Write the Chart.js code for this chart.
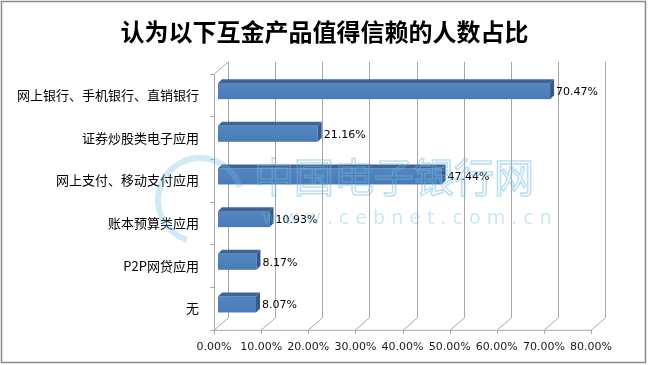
<!DOCTYPE html>
<html>
<head>
<meta charset="utf-8">
<script src="https://cdn.jsdelivr.net/npm/chart.js@4"></script>
<style>
    html, body { margin: 0; padding: 0; background: #fff; }
    #wrap { width: 649px; height: 365px; }
</style>
</head>
<body>
<div id="wrap"><canvas id="trustChart" width="649" height="365"></canvas></div>
<script>
const chartTitle = "认为以下互金产品值得信赖的人数占比";
const categories = [
    "网上银行、手机银行、直销银行",
    "证券炒股类电子应用",
    "网上支付、移动支付应用",
    "账本预算类应用",
    "P2P网贷应用",
    "无",
];
const shares = [70.47, 21.16, 47.44, 10.93, 8.17, 8.07];
const axisMax = 80;
const axisStep = 10;

const depth = 14; // back wall offset
const barDepth = 4;
const latinFont = "'DejaVu Sans', Verdana, sans-serif";
const cjkFont = "'Noto Sans CJK SC', 'DejaVu Sans', sans-serif";

function pct(v) {
    return v.toFixed(2) + "%";
}

const frame3d = {
    id: "frame3d",
    beforeDatasetsDraw(chart) {
        const { ctx, chartArea: a, scales } = chart;
        const xs = scales.x;
        ctx.save();
        ctx.strokeStyle = "#a6a6a6";
        ctx.lineWidth = 1;
        ctx.beginPath();
        for (let v = 0; v <= axisMax; v += axisStep) {
            const px = Math.round(xs.getPixelForValue(v)) + 0.5;
            ctx.moveTo(px + depth, a.top - 12);
            ctx.lineTo(px + depth, a.bottom - 12);
            ctx.moveTo(px, a.bottom);
            ctx.lineTo(px + depth, a.bottom - 12);
            ctx.moveTo(px, a.bottom);
            ctx.lineTo(px, a.bottom + 4);
        }
        const left = Math.round(a.left) + 0.5;
        ctx.moveTo(left, a.top);
        ctx.lineTo(left, a.bottom);
        ctx.moveTo(left, a.top);
        ctx.lineTo(left + depth, a.top - 12);
        ctx.moveTo(left, a.bottom + 0.5);
        ctx.lineTo(xs.getPixelForValue(axisMax) + 0.5, a.bottom + 0.5);
        const step = (a.bottom - a.top) / categories.length;
        for (let i = 0; i <= categories.length; i += 1) {
            const py = Math.round(a.top + i * step) + 0.5;
            ctx.moveTo(left - 4, py);
            ctx.lineTo(left, py);
        }
        ctx.stroke();
        ctx.restore();
    },
    afterDatasetsDraw(chart) {
        const { ctx } = chart;
        const meta = chart.getDatasetMeta(0);
        ctx.save();
        meta.data.forEach((bar, i) => {
            const h = bar.height;
            const x0 = bar.base + 4;
            const x1 = bar.x + 4;
            const yT = bar.y - h / 2 - 4;
            const yB = yT + h;
            const d = barDepth;
            const g = ctx.createLinearGradient(0, yT, 0, yB);
            g.addColorStop(0, "#5385c1");
            g.addColorStop(0.5, "#4f81bd");
            g.addColorStop(1, "#4a7ab5");
            ctx.fillStyle = g;
            ctx.fillRect(x0, yT, x1 - x0, h);
            ctx.fillStyle = "#3d6597";
            ctx.beginPath();
            ctx.moveTo(x0, yT);
            ctx.lineTo(x0 + d, yT - d);
            ctx.lineTo(x1 + d, yT - d);
            ctx.lineTo(x1, yT);
            ctx.closePath();
            ctx.fill();
            ctx.fillStyle = "#35598a";
            ctx.beginPath();
            ctx.moveTo(x1, yT);
            ctx.lineTo(x1 + d, yT - d);
            ctx.lineTo(x1 + d, yB - d);
            ctx.lineTo(x1, yB);
            ctx.closePath();
            ctx.fill();

            ctx.fillStyle = "#000";
            ctx.font = "11px " + latinFont;
            ctx.textAlign = "left";
            ctx.textBaseline = "middle";
            ctx.fillText(pct(shares[i]), x1 + d + 2, bar.y - 3);
        });
        ctx.restore();
    },
    afterDraw(chart) {
        const { ctx } = chart;
        ctx.save();
        // watermark
        ctx.strokeStyle = "rgba(110, 185, 220, 0.45)";
        ctx.lineWidth = 1.6;
        ctx.font = "40px " + cjkFont;
        ctx.textBaseline = "middle";
        ctx.textAlign = "left";
        ctx.strokeText("中国电子银行网", 254, 177);
        ctx.fillStyle = "rgba(110, 185, 220, 0.35)";
        ctx.font = "19px " + latinFont;
        ctx.fillText("w w w . c e b n e t . c o m . c n", 262, 219);
        ctx.lineWidth = 6;
        ctx.strokeStyle = "rgba(110, 185, 220, 0.3)";
        ctx.beginPath();
        ctx.arc(200, 200, 42, 0.6 * Math.PI, 1.9 * Math.PI);
        ctx.stroke();
        // outer border
        ctx.strokeStyle = "#8a8a8a";
        ctx.lineWidth = 1.5;
        ctx.strokeRect(1.5, 1.5, 644, 361);
        ctx.restore();
    },
};

new Chart(document.getElementById("trustChart"), {
    type: "bar",
    data: {
        labels: categories,
        datasets: [
            {
                data: shares,
                backgroundColor: "rgba(0,0,0,0)",
                barThickness: 16,
            },
        ],
    },
    options: {
        indexAxis: "y",
        responsive: false,
        animation: false,
        devicePixelRatio: 1,
        layout: { padding: { left: 0, right: 0, top: 0, bottom: 0 } },
        plugins: {
            legend: { display: false },
            tooltip: { enabled: false },
            title: {
                display: true,
                text: chartTitle,
                color: "#000",
                font: { family: cjkFont, size: 24, weight: "bold" },
                padding: { top: 17, bottom: 28 },
            },
        },
        scales: {
            x: {
                min: 0,
                max: axisMax,
                grid: { display: false, drawTicks: false, tickLength: 0 },
                border: { display: false },
                ticks: {
                    stepSize: axisStep,
                    padding: 11,
                    color: "#1a1a1a",
                    font: { family: latinFont, size: 11 },
                    maxRotation: 0,
                    callback: (v) => pct(v),
                },
                afterFit(scale) {
                    scale.paddingLeft = 0;
                    scale.paddingRight = 58;
                },
            },
            y: {
                grid: { display: false, drawTicks: false, tickLength: 0 },
                border: { display: false },
                ticks: {
                    padding: 15,
                    color: "#000",
                    font: { family: cjkFont, size: 13 },
                },
                afterFit(scale) {
                    scale.width = 214;
                    scale.paddingTop = 0;
                    scale.paddingBottom = 0;
                },
            },
        },
    },
    plugins: [frame3d],
});
</script>
</body>
</html>
